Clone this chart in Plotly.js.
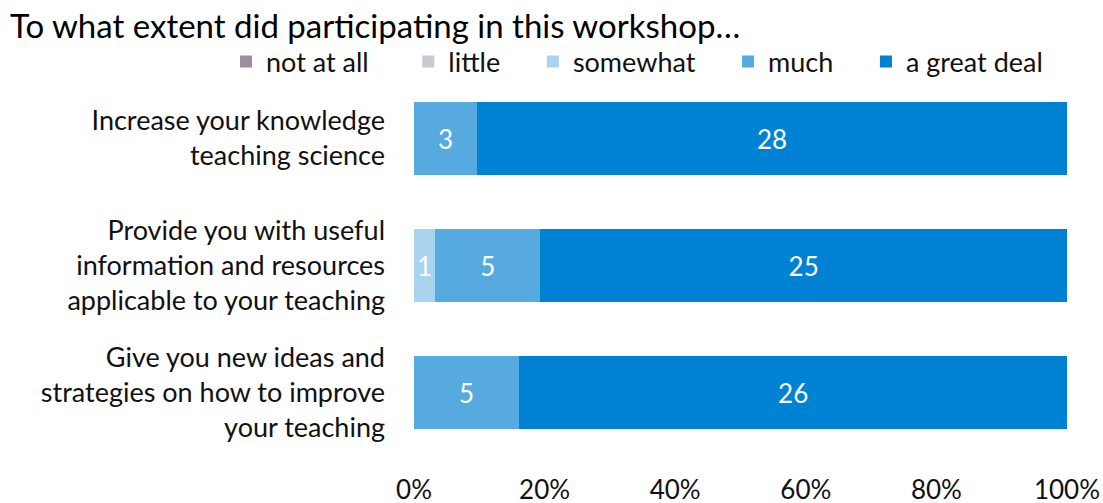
<!DOCTYPE html>
<html>
<head>
<meta charset="utf-8">
<script src="https://cdn.plot.ly/plotly-3.0.1.min.js"></script>
<style>html,body{margin:0;padding:0;background:#fff;}#chart{width:1103px;height:503px;}</style>
</head>
<body>
<div id="chart"></div>
<script>
const categories = [
  "Increase your knowledge<br>teaching science",
  "Provide you with useful<br>information and resources<br>applicable to your teaching",
  "Give you new ideas and<br>strategies on how to improve<br>your teaching"
];
const seriesNames = ["not at all", "little", "somewhat", "much", "a great deal"];
const notAtAll = [0, 0, 0];
const little = [0, 0, 0];
const somewhat = [0, 1, 0];
const much = [3, 5, 5];
const greatDeal = [28, 25, 26];
const seriesColors = ["#9E8FA0", "#CCC7D0", "#A9D3EE", "#56AAE0", "#0082D4"];
const tickVals = [0, 20, 40, 60, 80, 100];
const tickText = ["0%", "20%", "40%", "60%", "80%", "100%"];

const FONT = "Lato, 'Open Sans', sans-serif";
const allValues = [notAtAll, little, somewhat, much, greatDeal];
const nb = n => "\u00a0".repeat(n);
const pad = [nb(5), nb(4), nb(4), nb(4), ""];

const traces = allValues.map((vals, i) => ({
  type: "bar",
  orientation: "h",
  name: seriesNames[i] + pad[i],
  y: categories,
  x: vals,
  text: vals.map(v => v > 0 ? String(v) : ""),
  textposition: "inside",
  insidetextanchor: "middle",
  textangle: 0,
  constraintext: "none",
  textfont: {family: FONT, size: 26, color: "#ffffff"},
  marker: {color: seriesColors[i], line: {width: 0}},
  hoverinfo: "x+y+name"
}));

const layout = {
  width: 1103,
  height: 503,
  barmode: "stack",
  barnorm: "percent",
  bargap: 0.425,
  paper_bgcolor: "#ffffff",
  plot_bgcolor: "#ffffff",
  font: {family: FONT, size: 27, color: "#111111"},
  margin: {l: 414, r: 36, t: 75, b: 47, pad: 0},
  title: {
    text: "To what extent did participating in this workshop…",
    font: {family: FONT, size: 33, color: "#000000"},
    xref: "container", x: 0, xanchor: "left",
    yref: "container", y: 1 - 26 / 503, yanchor: "middle",
    pad: {l: 10}
  },
  legend: {
    orientation: "h",
    x: (226 - 414) / 653, xanchor: "left",
    y: 1 + (75 - 62) / 381, yanchor: "middle",
    font: {family: FONT, size: 27, color: "#111111"},
    traceorder: "normal",
    bgcolor: "rgba(0,0,0,0)"
  },
  xaxis: {
    range: [0, 100],
    tickvals: tickVals,
    ticktext: tickText,
    tickfont: {family: FONT, size: 26, color: "#111111"},
    showgrid: false,
    zeroline: false,
    showline: false,
    ticks: "",
    ticklabelstandoff: 16,
    fixedrange: true
  },
  yaxis: {
    type: "category",
    autorange: "reversed",
    tickfont: {family: FONT, size: 27, color: "#111111"},
    showgrid: false,
    zeroline: false,
    showline: false,
    ticks: "",
    ticklabelstandoff: 28,
    fixedrange: true
  },
  showlegend: true
};

Plotly.newPlot("chart", traces, layout, {displayModeBar: false, staticPlot: true});
</script>
</body>
</html>
